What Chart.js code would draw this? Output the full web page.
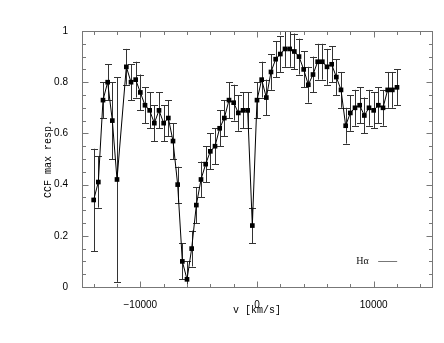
<!DOCTYPE html>
<html>
<head>
<meta charset="utf-8">
<script src="https://cdn.jsdelivr.net/npm/chart.js@4/dist/chart.umd.min.js"></script>
<style>
  html, body { margin: 0; padding: 0; background: #fff; }
  #wrap { width: 444px; height: 343px; }
</style>
</head>
<body>
<div id="wrap"><canvas id="ccf" width="444" height="343"></canvas></div>
<script>
// ── DATA ──
const VELOCITY = [
  -14000, -13600, -13200, -12800, -12400, -12000, -11200, -10800, -10400, -10000,
  -9600, -9200, -8800, -8400, -8000, -7600, -7200, -6800, -6400, -6000,
  -5600, -5200, -4800, -4400, -4000, -3600, -3200, -2800, -2400, -2000,
  -1600, -1200, -800, -400, 0, 400, 800, 1200, 1600, 2000,
  2400, 2800, 3200, 3600, 4000, 4400, 4800, 5200, 5600, 6000,
  6400, 6800, 7200, 7600, 8000, 8400, 8800, 9200, 9600, 10000,
  10400, 10800, 11200, 11600, 12000
];
const CCF = [
  0.34, 0.41, 0.73, 0.80, 0.65, 0.42, 0.86, 0.80, 0.81, 0.76,
  0.71, 0.69, 0.64, 0.69, 0.64, 0.66, 0.57, 0.40, 0.10, 0.03,
  0.15, 0.32, 0.42, 0.48, 0.53, 0.55, 0.62, 0.66, 0.73, 0.72,
  0.68, 0.69, 0.69, 0.24, 0.73, 0.81, 0.74, 0.84, 0.89, 0.91,
  0.93, 0.93, 0.92, 0.90, 0.85, 0.79, 0.83, 0.88, 0.88, 0.86,
  0.87, 0.82, 0.77, 0.63, 0.68, 0.70, 0.71, 0.67, 0.70, 0.69,
  0.71, 0.70, 0.77, 0.77, 0.78
];
const CCF_ERR = [
  0.20, 0.10, 0.07, 0.07, 0.15, 0.40, 0.07, 0.07, 0.07, 0.07,
  0.07, 0.07, 0.07, 0.07, 0.07, 0.07, 0.07, 0.07, 0.07, 0.07,
  0.07, 0.07, 0.07, 0.07, 0.07, 0.07, 0.07, 0.07, 0.07, 0.07,
  0.07, 0.07, 0.07, 0.07, 0.07, 0.07, 0.07, 0.07, 0.07, 0.07,
  0.07, 0.07, 0.07, 0.07, 0.07, 0.07, 0.07, 0.07, 0.07, 0.07,
  0.07, 0.07, 0.07, 0.07, 0.07, 0.07, 0.07, 0.07, 0.07, 0.07,
  0.07, 0.07, 0.07, 0.07, 0.07
];
const X_TICKS = [-10000, 0, 10000];
const Y_TICKS = [0, 0.2, 0.4, 0.6, 0.8, 1];
const X_MINOR = [-14000, -12000, -10000, -8000, -6000, -4000, -2000, 0, 2000, 4000, 6000, 8000, 10000, 12000, 14000];
const Y_MINOR = [0.05, 0.1, 0.15, 0.2, 0.25, 0.3, 0.35, 0.4, 0.45, 0.5, 0.55, 0.6, 0.65, 0.7, 0.75, 0.8, 0.85, 0.9, 0.95];
const SERIES_LABEL = 'Hα';

// ── PLUGIN: error bars, frame with inside ticks, legend ──
const framePlugin = {
  id: 'frame',
  beforeDatasetsDraw(chart) {
    const { ctx, chartArea: a, scales: { x, y } } = chart;
    ctx.save();
    ctx.beginPath();
    ctx.rect(a.left, a.top, a.right - a.left, a.bottom - a.top);
    ctx.clip();
    ctx.strokeStyle = '#333';
    ctx.lineWidth = 1;
    VELOCITY.forEach((v, i) => {
      const px = Math.round(x.getPixelForValue(v)) + 0.5;
      const top = y.getPixelForValue(CCF[i] + CCF_ERR[i]);
      const bot = y.getPixelForValue(CCF[i] - CCF_ERR[i]);
      ctx.beginPath();
      ctx.moveTo(px, top); ctx.lineTo(px, bot);
      ctx.moveTo(px - 3.5, Math.round(top) + 0.5); ctx.lineTo(px + 3.5, Math.round(top) + 0.5);
      ctx.moveTo(px - 3.5, Math.round(bot) + 0.5); ctx.lineTo(px + 3.5, Math.round(bot) + 0.5);
      ctx.stroke();
    });
    ctx.restore();
  },
  afterDraw(chart) {
    const { ctx, chartArea: a, scales: { x, y } } = chart;
    ctx.save();
    ctx.strokeStyle = '#777';
    ctx.lineWidth = 1;
    const L = Math.round(a.left) + 0.5, R = Math.round(a.right) + 0.5;
    const T = Math.round(a.top) + 0.5, B = Math.round(a.bottom) + 0.5;
    ctx.strokeRect(L, T, R - L, B - T);

    ctx.beginPath();
    X_MINOR.forEach(v => {
      const px = Math.round(x.getPixelForValue(v)) + 0.5;
      const len = X_TICKS.includes(v) ? 6 : 3.5;
      ctx.moveTo(px, B); ctx.lineTo(px, B - len);
      ctx.moveTo(px, T); ctx.lineTo(px, T + len);
    });
    Y_MINOR.forEach(v => {
      const py = Math.round(y.getPixelForValue(v)) + 0.5;
      const major = Y_TICKS.some(t => Math.abs(t - v) < 1e-9);
      const len = major ? 6 : 3.5;
      ctx.moveTo(L, py); ctx.lineTo(L + len, py);
      ctx.moveTo(R, py); ctx.lineTo(R - len, py);
    });
    ctx.stroke();

    // legend
    const lx = x.getPixelForValue(8500), ly = y.getPixelForValue(0.1);
    ctx.fillStyle = '#111';
    ctx.font = '10px "Liberation Serif"';
    ctx.textBaseline = 'middle';
    ctx.fillText(SERIES_LABEL, lx, ly);
    ctx.strokeStyle = '#777';
    ctx.beginPath();
    ctx.moveTo(lx + 22, Math.round(ly) + 0.5);
    ctx.lineTo(lx + 41, Math.round(ly) + 0.5);
    ctx.stroke();
    ctx.restore();
  }
};

const fmt = v => (v < 0 ? '\u2212' : '') + Math.abs(v);

new Chart(document.getElementById('ccf'), {
  type: 'scatter',
  data: {
    datasets: [{
      label: SERIES_LABEL,
      data: VELOCITY.map((v, i) => ({ x: v, y: CCF[i] })),
      showLine: true,
      borderColor: '#000',
      borderWidth: 1,
      pointStyle: 'rect',
      pointRadius: 3.3,
      pointBackgroundColor: '#000',
      pointBorderWidth: 0,
      clip: false
    }]
  },
  options: {
    responsive: false,
    animation: false,
    devicePixelRatio: 1,
    layout: { padding: { left: 0, top: 31, right: 12, bottom: 0 } },
    plugins: { legend: { display: false }, tooltip: { enabled: false } },
    scales: {
      x: {
        type: 'linear', min: -15000, max: 15000,
        afterBuildTicks: s => { s.ticks = X_TICKS.map(v => ({ value: v })); },
        afterFit: s => { s.height = 56; },
        grid: { display: false },
        border: { display: false },
        ticks: {
          callback: v => fmt(v), autoSkip: false, maxRotation: 0,
          color: '#000', padding: 4, font: { family: '"Liberation Sans"', size: 10 }
        },
        title: {
          display: true, text: 'v [km/s]', color: '#000',
          font: { family: '"Liberation Mono"', size: 10 },
          padding: { top: 0, bottom: 27 }
        }
      },
      y: {
        type: 'linear', min: 0, max: 1,
        afterBuildTicks: s => { s.ticks = Y_TICKS.map(v => ({ value: v })); },
        afterFit: s => { s.width = 82; },
        grid: { display: false },
        border: { display: false },
        ticks: {
          callback: v => String(v), color: '#000', padding: 6,
          font: { family: '"Liberation Sans"', size: 10 }
        },
        title: {
          display: true, text: 'CCF max resp.', color: '#000',
          font: { family: '"Liberation Mono"', size: 10 },
          padding: { top: 42, bottom: 0 }
        }
      }
    }
  },
  plugins: [framePlugin]
});
</script>
</body>
</html>
